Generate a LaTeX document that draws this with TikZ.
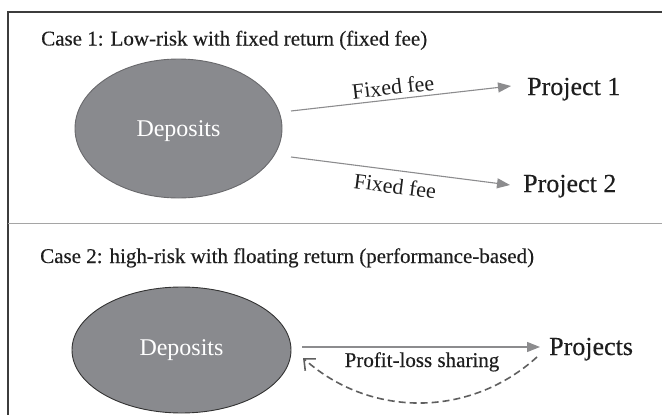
\documentclass[tikz,border=0pt]{standalone}
\usepackage{fontspec}
\setmainfont{Liberation Serif}
\newfontfamily\heavyserif[FakeBold=0.35]{Liberation Serif}
\usetikzlibrary{shapes.geometric,arrows.meta}
\definecolor{ellfill}{RGB}{137,138,142}
\definecolor{ellline}{RGB}{105,105,108}
\definecolor{arrgray}{RGB}{140,140,142}
\definecolor{dashgray}{RGB}{95,95,95}
\definecolor{txt}{RGB}{30,30,30}
\definecolor{frame}{RGB}{60,60,60}
\definecolor{divider}{RGB}{165,165,165}
\tikzset{
  depo/.style={ellipse, fill=ellfill, draw=ellline, line width=0.9pt, inner sep=0pt},
  depotext/.style={text=white, font=\fontsize{24}{28}\selectfont, inner sep=0pt, anchor=base},
  title/.style={text=txt, font=\heavyserif\fontsize{21}{25}\selectfont, inner sep=0pt, anchor=base west},
  proj/.style={text=txt, font=\heavyserif\fontsize{26}{30}\selectfont, inner sep=0pt, anchor=base west},
  lbl/.style={text=txt, font=\fontsize{22}{26}\selectfont, inner sep=0pt},
  flow/.style={draw=arrgray, line width=1.1pt, -{Triangle[length=13pt,width=10pt]}, arrgray},
  back/.style={draw=dashgray, line width=1.6pt, dash pattern=on 7pt off 4pt, -{Straight Barb[length=9pt,width=16pt,line width=1.6pt]}},
}
\begin{document}
\begin{tikzpicture}[x=1pt,y=-1pt]
\useasboundingbox (0,0) rectangle (662,415);
% frame
\coordinate (fTL) at (8,12);
\coordinate (fTR) at (662,12);
\coordinate (fBL) at (8,415);
\draw[frame, line width=1.8pt] (fTR) -- (fTL) -- (fBL);
\coordinate (dL) at (8,223);
\coordinate (dR) at (662,223);
\draw[divider, line width=1pt] (dL) -- (dR);
% titles
\node[title] (t1) at (41,45.5) {Case 1: Low-risk with fixed return (fixed fee)};
\node[title] (t2) at (40,263) {Case 2: high-risk with floating return (performance-based)};
% case 1
\node[depo, minimum width=207pt, minimum height=139pt] (d1) at (178.5,128.5) {};
\node[depotext] (d1t) at (178.5,136) {Deposits};
\node[proj] (p1) at (527,95) {Project 1};
\node[proj] (p2) at (523,192) {Project 2};
\coordinate (a1s) at (291,111);
\coordinate (a1e) at (511,86);
\coordinate (a2s) at (291,157);
\coordinate (a2e) at (510,185);
\draw[flow] (a1s) -- (a1e);
\draw[flow] (a2s) -- (a2e);
\node[lbl, rotate=6.5] (f1) at (393,87) {Fixed fee};
\node[lbl, rotate=-7.3] (f2) at (395,186) {Fixed fee};
% case 2
\node[depo, draw=black!80, minimum width=219pt, minimum height=126pt] (d2) at (181.5,350) {};
\node[depotext] (d2t) at (181.5,355) {Deposits};
\node[proj] (ps) at (549,355) {Projects};
\coordinate (a3s) at (302,347);
\coordinate (a3e) at (540,347);
\draw[flow] (a3s) -- (a3e);
\node[lbl, font=\heavyserif\fontsize{21}{25}\selectfont, anchor=base] (pls) at (422,367) {Profit-loss sharing};
\coordinate (b1s) at (537,357);
\coordinate (b1e) at (303,358);
\draw[back] (b1s) .. controls (470,418) and (370,418) .. (b1e);
\end{tikzpicture}
\end{document}
